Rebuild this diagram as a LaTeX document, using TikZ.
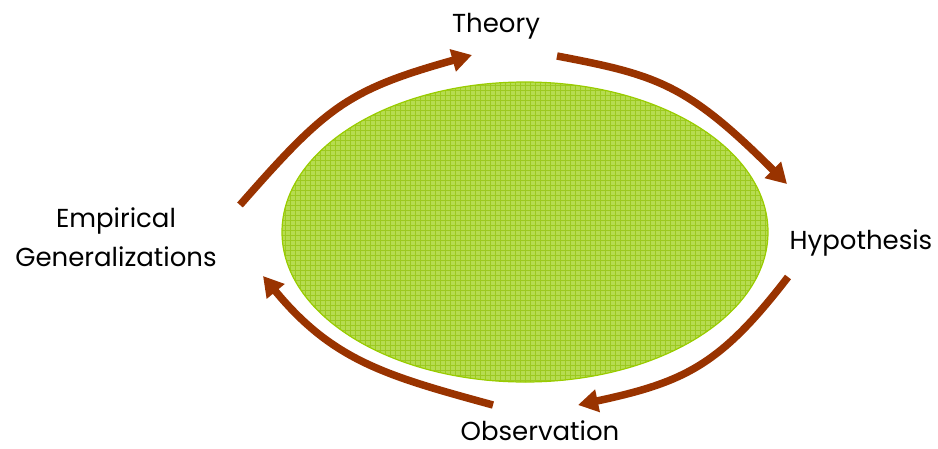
\documentclass[tikz,border=0pt]{standalone}
\usepackage{fontspec}
\setmainfont{Poppins}
\usetikzlibrary{arrows.meta}
\definecolor{rust}{HTML}{993300}
\definecolor{lime}{HTML}{B6DC50}
\definecolor{limed}{HTML}{9CC920}
\definecolor{limeb}{HTML}{99CC00}

\begin{document}
\begin{tikzpicture}[
   x=1pt,y=-1pt,
   lbl/.style ={font=\fontsize{26}{39}\selectfont,inner sep=0pt,align=center},
   cyc/.style ={-{Triangle[width=22pt,length=20pt]},draw=rust,line width=7.5pt}
  ]
  \useasboundingbox (0,0) rectangle (938,448);

  % field
  \fill[lime] (525,232) ellipse [x radius=243,y radius=150];
  \begin{scope}
    \clip (525,232) ellipse [x radius=243,y radius=150];
    \draw[limed,line width=1pt,step=5pt] (280,385) grid (770,80);
  \end{scope}
  \draw[limeb,line width=1.2pt] (525,232) ellipse [x radius=243,y radius=150];

  % stages
  \node[lbl,anchor=base] (th) at (496,32) {Theory};
  \node[lbl,anchor=base] (hy) at (861,249) {Hypothesis};
  \node[lbl,anchor=base] (ob) at (540,440) {Observation};
  \node[lbl,anchor=base] (em) at (116,266) {Empirical\\Generalizations};

  % arrow ends
  \coordinate (em-out) at (240,205);
  \coordinate (th-in)  at (472,55);
  \coordinate (th-out) at (557,56);
  \coordinate (hy-in)  at (787,184);
  \coordinate (hy-out) at (788,277);
  \coordinate (ob-in)  at (578,405);
  \coordinate (ob-out) at (493,405);
  \coordinate (em-in)  at (263,276);

  \draw[cyc] (em-out) .. controls (326,107) and (347,90) .. (th-in);
  \draw[cyc] (th-out) .. controls (657,75) and (687,84) .. (hy-in);
  \draw[cyc] (hy-out) .. controls (721,364) and (686,382) .. (ob-in);
  \draw[cyc] (ob-out) .. controls (387,376) and (333,361) .. (em-in);
\end{tikzpicture}
\end{document}
